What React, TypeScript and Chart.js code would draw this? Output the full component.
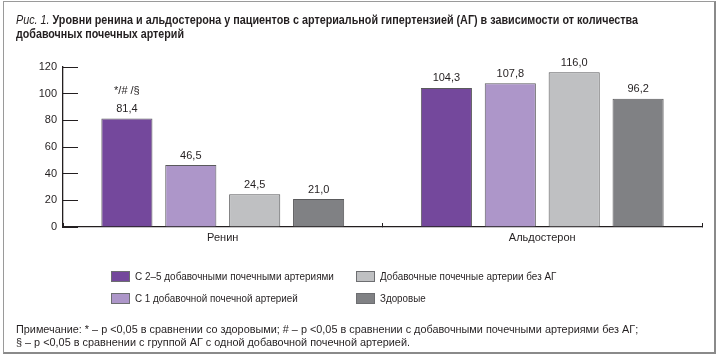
import React, { useEffect, useLayoutEffect, useRef, useState } from "react";
import { Chart, registerables } from "chart.js";

Chart.register(...registerables);

const categories = ["Ренин", "Альдостерон"];
const seriesNames = [
  "С 2–5 добавочными почечными артериями",
  "С 1 добавочной почечной артерией",
  "Добавочные почечные артерии без АГ",
  "Здоровые",
];
const series1 = [81.4, 104.3];
const series2 = [46.5, 107.8];
const series3 = [24.5, 116.0];
const series4 = [21.0, 96.2];
const series1Marks = ["*/# /§", ""];
const seriesColors = ["#74489c", "#ad96c9", "#bfc0c2", "#808184"];
const yTicks = [0, 20, 40, 60, 80, 100, 120];

const titleItalic = "Рис. 1.";
const titleBold1 = " Уровни ренина и альдостерона у пациентов с артериальной гипертензией (АГ) в зависимости от количества";
const titleBold2 = "добавочных почечных артерий";
const noteLines = [
  "Примечание: * – p <0,05 в сравнении со здоровыми; # – p <0,05 в сравнении с добавочными почечными артериями без АГ;",
  "§ – p <0,05 в сравнении с группой АГ с одной добавочной почечной артерией.",
];

const FONT = '"Liberation Sans", Arial, sans-serif';

const fmt = (v: number) => v.toFixed(1).replace(".", ",");

function FitText(props: {
  x: number;
  cy: number;
  w: number;
  size: number;
  children: React.ReactNode;
  bold?: boolean;
}) {
  const ref = useRef<HTMLDivElement | null>(null);
  const [scale, setScale] = useState(1);
  useLayoutEffect(() => {
    if (ref.current) {
      const nat = ref.current.offsetWidth;
      if (nat > 0) setScale(props.w / nat);
    }
  }, []);
  const lh = Math.round(props.size * 1.3);
  return (
    <div
      ref={ref}
      style={{
        position: "absolute",
        left: props.x,
        top: props.cy - lh / 2,
        height: lh,
        lineHeight: lh + "px",
        fontFamily: FONT,
        fontSize: props.size,
        fontWeight: props.bold ? "bold" : "normal",
        color: "#231f20",
        whiteSpace: "nowrap",
        transform: `scaleX(${scale})`,
        transformOrigin: "left center",
      }}
    >
      {props.children}
    </div>
  );
}

export default function App() {
  const ref = useRef<HTMLCanvasElement | null>(null);

  useEffect(() => {
    if (!ref.current) return;
    const allSeries = [series1, series2, series3, series4];
    const labelPlugin = {
      id: "valueLabels",
      afterDatasetsDraw(chart: any) {
        const ctx = chart.ctx;
        ctx.save();
        ctx.font = `11px ${FONT}`;
        ctx.fillStyle = "#231f20";
        ctx.textAlign = "center";
        ctx.textBaseline = "bottom";
        chart.data.datasets.forEach((ds: any, di: number) => {
          const meta = chart.getDatasetMeta(di);
          meta.data.forEach((el: any, i: number) => {
            const v = ds.data[i];
            ctx.fillText(fmt(v), el.x, el.y - 4);
            if (di === 0 && series1Marks[i]) {
              ctx.fillText(series1Marks[i], el.x, el.y - 22);
            }
          });
        });
        ctx.restore();
      },
    };
    const chart = new Chart(ref.current, {
      type: "bar",
      data: {
        labels: categories,
        datasets: allSeries.map((d, i) => ({
          label: seriesNames[i],
          data: d,
          backgroundColor: seriesColors[i],
          borderColor: "#5a5a5c",
          borderWidth: 1,
          categoryPercentage: 0.8,
          barPercentage: 0.8,
        })),
      },
      options: {
        animation: false,
        responsive: false,
        devicePixelRatio: 1,
        layout: { padding: { left: 0, top: 67, right: 18, bottom: 111 } },
        plugins: { legend: { display: false }, tooltip: { enabled: false }, title: { display: false } },
        font: { family: FONT },
        scales: {
          x: {
            afterFit: (s: any) => {
              s.height = 20;
            },
            grid: {
              offset: true,
              drawOnChartArea: false,
              drawTicks: true,
              tickLength: -4,
              color: "#231f20",
            },
            border: { display: true, color: "#231f20", width: 1.3 },
            ticks: { font: { family: FONT, size: 11 }, color: "#231f20", padding: 8 },
          },
          y: {
            min: 0,
            max: 120,
            afterFit: (s: any) => {
              s.width = 63;
            },
            afterBuildTicks: (s: any) => {
              s.ticks = yTicks.map((v) => ({ value: v }));
            },
            grid: {
              drawOnChartArea: false,
              drawTicks: true,
              tickLength: -15,
              color: "#231f20",
            },
            border: { display: true, color: "#231f20", width: 1.3 },
            ticks: { font: { family: FONT, size: 11 }, color: "#231f20", padding: 21 },
          },
        },
      } as any,
      plugins: [labelPlugin],
    });
    return () => chart.destroy();
  }, []);

  const legendItems = [
    { i: 0, x: 111, y: 276, w: 199 },
    { i: 1, x: 111, y: 298, w: 163 },
    { i: 2, x: 356, y: 276, w: 176 },
    { i: 3, x: 356, y: 298, w: 46 },
  ];

  return (
    <div style={{ position: "absolute", left: 0, top: 0, width: 720, height: 358, background: "#fff", overflow: "hidden" }}>
      <div
        style={{
          position: "absolute",
          left: 3,
          top: 1,
          width: 710,
          height: 350,
          borderTop: "1px solid #9a9a9a",
          borderLeft: "1px solid #9a9a9a",
          borderRight: "2px solid #8a8a8a",
          borderBottom: "2px solid #8a8a8a",
        }}
      />
      <canvas ref={ref} width={720} height={358} style={{ position: "absolute", left: 0, top: 0, width: 720, height: 358 }} />
      <FitText x={16} cy={19} w={622} size={13}>
        <span style={{ fontStyle: "italic" }}>{titleItalic}</span>
        <span style={{ fontWeight: "bold" }}>{titleBold1}</span>
      </FitText>
      <FitText x={16} cy={33} w={168} size={13} bold>
        {titleBold2}
      </FitText>
      {legendItems.map((it) => (
        <React.Fragment key={it.i}>
          <div
            style={{
              position: "absolute",
              left: it.x,
              top: it.y - 5,
              width: 17,
              height: 9,
              background: seriesColors[it.i],
              border: "1px solid #6d6e71",
            }}
          />
          <FitText x={it.x + 24} cy={it.y} w={it.w} size={11.5}>
            {seriesNames[it.i]}
          </FitText>
        </React.Fragment>
      ))}
      <FitText x={16} cy={329} w={622} size={11.5}>
        {noteLines[0]}
      </FitText>
      <FitText x={16} cy={342} w={394} size={11.5}>
        {noteLines[1]}
      </FitText>
    </div>
  );
}
